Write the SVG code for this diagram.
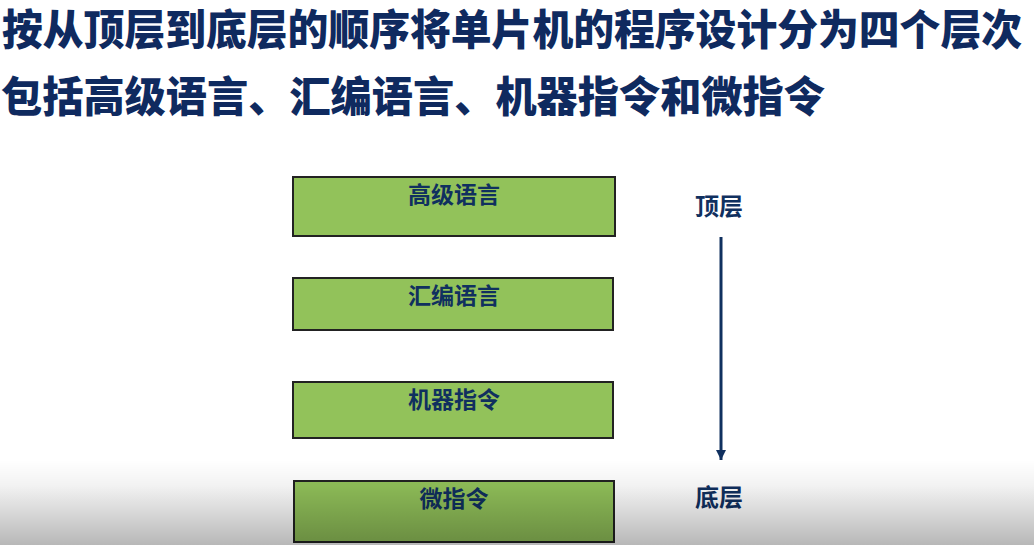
<svg xmlns="http://www.w3.org/2000/svg" width="1034" height="545" viewBox="0 0 1034 545">
<style>
.title{font-family:"Noto Sans CJK SC","Noto Sans CJK JP",sans-serif;font-weight:900;font-size:42px;fill:#0f2a5f}
.box{fill:#92c25a;stroke:#222;stroke-width:2}
.lbl{font-family:"Noto Sans CJK SC","Noto Sans CJK JP",sans-serif;font-weight:700;font-size:23px;fill:#10305f;text-anchor:middle}
.side{font-family:"Noto Sans CJK SC","Noto Sans CJK JP",sans-serif;font-weight:700;font-size:24px;fill:#10305f}
</style>
<defs>
<linearGradient id="shade" x1="0" y1="0" x2="0" y2="1">
<stop offset="0" stop-color="#000" stop-opacity="0"/>
<stop offset="0.3" stop-color="#000" stop-opacity="0.05"/>
<stop offset="1" stop-color="#000" stop-opacity="0.28"/>
</linearGradient>
<marker id="ah" viewBox="0 0 10 10" refX="10" refY="5" markerWidth="10" markerHeight="10" markerUnits="userSpaceOnUse" orient="auto">
<path d="M0,0 L10,5 L0,10 z" fill="#10305f"/>
</marker>
</defs>
<rect width="1034" height="545" fill="#fff"/>
<g id="title">
<text class="title" x="2" y="45" textLength="1020" lengthAdjust="spacingAndGlyphs">按从顶层到底层的顺序将单片机的程序设计分为四个层次</text>
<text class="title" x="1" y="112" textLength="824" lengthAdjust="spacingAndGlyphs">包括高级语言、汇编语言、机器指令和微指令</text>
</g>
<g id="node-gaoji">
<rect class="box" x="293" y="177" width="322" height="59"/>
<text class="lbl" x="454" y="203">高级语言</text>
</g>
<g id="node-huibian">
<rect class="box" x="293" y="278" width="320" height="52"/>
<text class="lbl" x="454" y="304">汇编语言</text>
</g>
<g id="node-jiqi">
<rect class="box" x="293" y="382" width="320" height="56"/>
<text class="lbl" x="454" y="408">机器指令</text>
</g>
<g id="node-wei">
<rect class="box" x="294" y="481" width="320" height="61"/>
<text class="lbl" x="454" y="507">微指令</text>
</g>
<g id="label-top"><text class="side" x="695" y="215">顶层</text></g>
<g id="label-bottom"><text class="side" x="695" y="506">底层</text></g>
<g id="connectors">
<line x1="721" y1="237" x2="721" y2="460" stroke="#10305f" stroke-width="3" marker-end="url(#ah)"/>
</g>
<rect x="0" y="460" width="1034" height="85" fill="url(#shade)"/>
</svg>
